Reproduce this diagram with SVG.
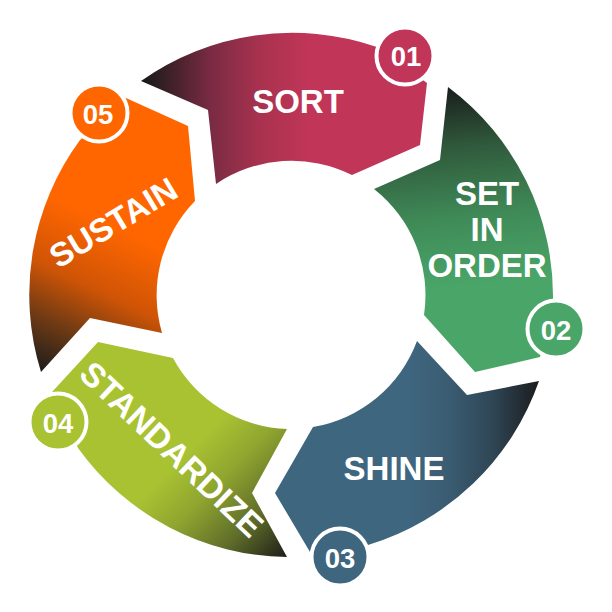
<svg xmlns="http://www.w3.org/2000/svg" width="612" height="612" viewBox="0 0 612 612">
<style>
text{font-family:"Liberation Sans",Arial,sans-serif;font-weight:700;fill:#fff;text-anchor:middle}
.l{font-size:33px}
.n{font-size:27.500px}
.b{stroke:#fff;stroke-width:4}
</style>
<defs>
<linearGradient id="g1" gradientUnits="userSpaceOnUse" x1="145" y1="90" x2="310" y2="90"><stop offset="0" stop-color="#1a1a1a"/><stop offset=".4" stop-color="#7a2b43"/><stop offset=".7" stop-color="#a9324f"/><stop offset="1" stop-color="#c13558"/></linearGradient>
<linearGradient id="g2" gradientUnits="userSpaceOnUse" x1="455" y1="88" x2="475" y2="285"><stop offset="0" stop-color="#1a1f1c"/><stop offset=".3" stop-color="#305a3c"/><stop offset=".65" stop-color="#3f8a57"/><stop offset="1" stop-color="#4aa568"/></linearGradient>
<linearGradient id="g3" gradientUnits="userSpaceOnUse" x1="537" y1="420" x2="410" y2="420"><stop offset="0" stop-color="#1c1e20"/><stop offset=".35" stop-color="#2f4655"/><stop offset=".7" stop-color="#3a5c72"/><stop offset="1" stop-color="#3f667f"/></linearGradient>
<linearGradient id="g4" gradientUnits="userSpaceOnUse" x1="287" y1="557" x2="185" y2="455"><stop offset="0" stop-color="#1d1d18"/><stop offset=".35" stop-color="#5f6d2a"/><stop offset=".7" stop-color="#8fa52f"/><stop offset="1" stop-color="#a9c232"/></linearGradient>
<linearGradient id="g5" gradientUnits="userSpaceOnUse" x1="42" y1="372" x2="112" y2="225"><stop offset="0" stop-color="#1d1d1d"/><stop offset=".3" stop-color="#6e3a14"/><stop offset=".6" stop-color="#cf5406"/><stop offset="1" stop-color="#ff6600"/></linearGradient>
</defs>
<g id="node-sort">
<path fill="url(#g1)" d="M141 81A261 261 0 0 1 377 47L427 83L420 145L352 175A135 135 0 0 0 216 184L208 110Z"/>
<circle class="b" fill="#c13558" cx="405" cy="56" r="28.500"/>
<text class="n" x="406" y="65.500">01</text>
<text class="l" x="298" y="113">SORT</text>
</g>
<g id="node-set-in-order">
<path fill="url(#g2)" d="M448 87A261 261 0 0 1 553 300L540 357L475 372L424 315A135 135 0 0 0 374 189L440 160Z"/>
<circle class="b" fill="#4aa568" cx="556" cy="329" r="28.500"/>
<text class="n" x="556" y="340">02</text>
<text class="l" x="487" y="205">SET</text>
<text class="l" x="487" y="241">IN</text>
<text class="l" x="487" y="277">ORDER</text>
</g>
<g id="node-shine">
<path fill="url(#g3)" d="M539 381A261 261 0 0 1 368 545L310 552L275 493L313 427A135 135 0 0 0 417 341L467 395Z"/>
<circle class="b" fill="#3f667f" cx="340" cy="557" r="28.500"/>
<text class="n" x="340" y="568">03</text>
<text class="l" x="394" y="480">SHINE</text>
</g>
<g id="node-standardize">
<path fill="url(#g4)" d="M287 557A261 261 0 0 1 78 448L52 392L98 342L173 358A135 135 0 0 0 287 429L252 493Z"/>
<circle class="b" fill="#a9c232" cx="58" cy="422" r="28.500"/>
<text class="n" x="58" y="433">04</text>
<text class="l" transform="translate(172 449) rotate(43.500)" x="0" y="12" style="font-size:33.500px">STANDARDIZE</text>
</g>
<g id="node-sustain">
<path fill="url(#g5)" d="M41 372A261 261 0 0 1 80 140L126 98L188 126L195 201A135 135 0 0 0 162 333L90 318Z"/>
<circle class="b" fill="#ff6600" cx="99" cy="113" r="28.500"/>
<text class="n" x="98" y="123.500">05</text>
<text class="l" transform="translate(113 222) rotate(-31)" x="0" y="12">SUSTAIN</text>
</g>
<g id="connectors"/>
</svg>
